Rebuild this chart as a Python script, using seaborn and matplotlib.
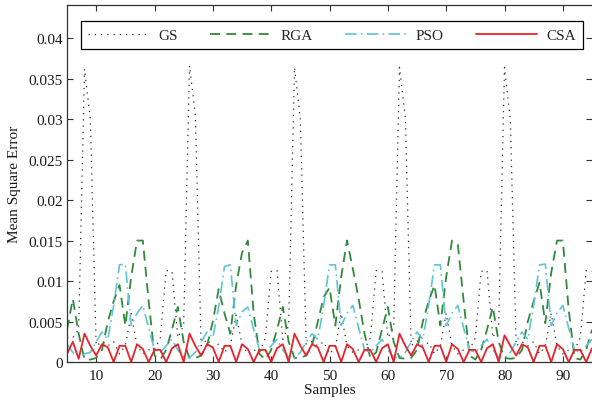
import matplotlib
matplotlib.use("Agg")
import matplotlib.pyplot as plt
import pandas as pd
import seaborn as sns

# Sample index along the x axis
samples = list(range(5, 96))

# Mean square error per sample for each method
gs = [
    0.0030, 0.0030, 0.0040,
    0.0362, 0.0300, 0.0020, 0.0025, 0.0020, 0.0025, 0.0010, 0.0020, 0.0060,
    0.0020, 0.0010, 0.0015, 0.0015, 0.0030, 0.0113, 0.0112, 0.0030, 0.0045,
    0.0366, 0.0305, 0.0020, 0.0028, 0.0018, 0.0022, 0.0012, 0.0020, 0.0058,
    0.0022, 0.0010, 0.0015, 0.0012, 0.0030, 0.0112, 0.0113, 0.0028, 0.0045,
    0.0364, 0.0300, 0.0022, 0.0025, 0.0020, 0.0025, 0.0010, 0.0018, 0.0060,
    0.0020, 0.0012, 0.0015, 0.0015, 0.0030, 0.0113, 0.0112, 0.0030, 0.0042,
    0.0364, 0.0302, 0.0020, 0.0026, 0.0020, 0.0024, 0.0010, 0.0020, 0.0060,
    0.0020, 0.0010, 0.0015, 0.0015, 0.0030, 0.0112, 0.0113, 0.0030, 0.0045,
    0.0364, 0.0300, 0.0020, 0.0025, 0.0020, 0.0025, 0.0010, 0.0020, 0.0060,
    0.0020, 0.0010, 0.0015, 0.0015, 0.0030, 0.0113, 0.0112,
]
rga = [
    0.0040, 0.0078, 0.0035,
    0.0003, 0.0003, 0.0005, 0.0015, 0.0050, 0.0075, 0.0095, 0.0045, 0.0105,
    0.0150, 0.0150, 0.0075, 0.0008, 0.0003, 0.0015, 0.0040, 0.0068, 0.0025,
    0.0005, 0.0005, 0.0008, 0.0020, 0.0050, 0.0090, 0.0060, 0.0035, 0.0095,
    0.0135, 0.0150, 0.0060, 0.0010, 0.0003, 0.0015, 0.0040, 0.0068, 0.0025,
    0.0005, 0.0005, 0.0008, 0.0020, 0.0050, 0.0080, 0.0092, 0.0045, 0.0105,
    0.0150, 0.0115, 0.0078, 0.0035, 0.0005, 0.0012, 0.0040, 0.0068, 0.0025,
    0.0005, 0.0004, 0.0005, 0.0015, 0.0050, 0.0075, 0.0095, 0.0045, 0.0105,
    0.0150, 0.0145, 0.0075, 0.0008, 0.0003, 0.0015, 0.0040, 0.0068, 0.0025,
    0.0005, 0.0004, 0.0005, 0.0015, 0.0050, 0.0075, 0.0098, 0.0048, 0.0110,
    0.0150, 0.0150, 0.0065, 0.0005, 0.0003, 0.0015, 0.0040,
]
pso = [
    0.0022, 0.0012, 0.0006,
    0.0010, 0.0012, 0.0025, 0.0037, 0.0028, 0.0070, 0.0120, 0.0121, 0.0045,
    0.0060, 0.0070, 0.0042, 0.0015, 0.0012, 0.0020, 0.0028, 0.0015, 0.0006,
    0.0005, 0.0012, 0.0025, 0.0037, 0.0030, 0.0068, 0.0118, 0.0120, 0.0045,
    0.0062, 0.0068, 0.0040, 0.0015, 0.0012, 0.0020, 0.0028, 0.0015, 0.0006,
    0.0005, 0.0012, 0.0025, 0.0035, 0.0028, 0.0070, 0.0120, 0.0120, 0.0045,
    0.0060, 0.0070, 0.0042, 0.0015, 0.0012, 0.0020, 0.0028, 0.0015, 0.0006,
    0.0005, 0.0012, 0.0025, 0.0037, 0.0028, 0.0070, 0.0120, 0.0120, 0.0045,
    0.0060, 0.0070, 0.0042, 0.0015, 0.0012, 0.0020, 0.0028, 0.0015, 0.0006,
    0.0005, 0.0012, 0.0025, 0.0037, 0.0028, 0.0070, 0.0120, 0.0121, 0.0045,
    0.0060, 0.0070, 0.0042, 0.0015, 0.0012, 0.0020, 0.0028,
]
csa = [
    0.0010, 0.0025, 0.0004,
    0.0035, 0.0020, 0.0008, 0.0022, 0.0018, 0.0000, 0.0020, 0.0020, 0.0000,
    0.0022, 0.0016, 0.0000, 0.0015, 0.0015, 0.0000, 0.0017, 0.0022, 0.0000,
    0.0035, 0.0020, 0.0008, 0.0022, 0.0018, 0.0000, 0.0020, 0.0020, 0.0000,
    0.0022, 0.0016, 0.0000, 0.0015, 0.0015, 0.0000, 0.0017, 0.0022, 0.0000,
    0.0035, 0.0020, 0.0008, 0.0022, 0.0018, 0.0000, 0.0020, 0.0020, 0.0000,
    0.0022, 0.0016, 0.0000, 0.0015, 0.0015, 0.0000, 0.0017, 0.0022, 0.0000,
    0.0035, 0.0020, 0.0008, 0.0022, 0.0018, 0.0000, 0.0020, 0.0020, 0.0000,
    0.0022, 0.0016, 0.0000, 0.0015, 0.0015, 0.0000, 0.0017, 0.0022, 0.0000,
    0.0033, 0.0020, 0.0008, 0.0022, 0.0018, 0.0000, 0.0020, 0.0020, 0.0000,
    0.0022, 0.0016, 0.0000, 0.0015, 0.0015, 0.0000, 0.0017,
]

methods = ["GS", "RGA", "PSO", "CSA"]
series = {"GS": gs, "RGA": rga, "PSO": pso, "CSA": csa}

x_ticks = [10, 20, 30, 40, 50, 60, 70, 80, 90]
y_ticks = [0, 0.005, 0.01, 0.015, 0.02, 0.025, 0.03, 0.035, 0.04]
y_tick_labels = ["0", "0.005", "0.01", "0.015", "0.02", "0.025", "0.03", "0.035", "0.04"]

# Line appearance per method
styles = {
    "GS":  dict(color="#2a2a2a", lw=0.9, dashes=(1.0, 4.0)),
    "RGA": dict(color="#2f8a3c", lw=1.3, dashes=(5.5, 3.5)),
    "PSO": dict(color="#5ec4d6", lw=1.2, dashes=(7.0, 2.5, 1.0, 2.5)),
    "CSA": dict(color="#e8232a", lw=1.3, dashes=None),
}

df = pd.DataFrame({"Samples": samples, **series})

sns.set_style("ticks")
plt.rcParams["font.family"] = ["Liberation Serif", "DejaVu Serif"]

fig = plt.figure(figsize=(5.92, 4.02), dpi=100)
ax = fig.add_axes([67 / 592, 39 / 402, 525 / 592, 357 / 402])

for name in methods:
    st = styles[name]
    sns.lineplot(data=df, x="Samples", y=name, ax=ax, color=st["color"],
                 linewidth=st["lw"], label=name, errorbar=None, legend=False)
    line = ax.lines[-1]
    if st["dashes"] is not None:
        line.set_dashes(st["dashes"])

ax.set_xlim(5, 95)
ax.set_ylim(0, 0.0441)
ax.set_xticks(x_ticks)
ax.set_xticklabels([str(t) for t in x_ticks])
ax.set_yticks(y_ticks)
ax.set_yticklabels(y_tick_labels)

ax.tick_params(axis="both", direction="in", length=4, width=0.8,
               top=True, right=True, color="#333333",
               labelsize=11, labelcolor="#1a1a1a")
ax.tick_params(axis="x", pad=5)
ax.tick_params(axis="y", pad=3)

for side in ["left", "bottom", "top"]:
    ax.spines[side].set_color("#333333")
    ax.spines[side].set_linewidth(0.9)
ax.spines["right"].set_visible(False)

ax.set_xlabel("Samples", fontsize=11, color="#1a1a1a")
ax.set_ylabel("Mean Square Error", fontsize=11, color="#1a1a1a")
ax.xaxis.set_label_coords(0.5, -0.058)
ax.yaxis.set_label_coords(-0.088, 0.5)

handles = ax.lines[:4]
leg = ax.legend(handles, methods, ncol=4, loc="lower left",
                bbox_to_anchor=(0.0267, 0.877, 0.956, 0.0866), mode="expand",
                borderaxespad=0, frameon=True, fancybox=False,
                edgecolor="black", facecolor="white", framealpha=1,
                handlelength=4.0, handletextpad=0.6, fontsize=11,
                borderpad=0.45)
leg.get_frame().set_linewidth(0.9)

fig.savefig("out.png", dpi=100)
